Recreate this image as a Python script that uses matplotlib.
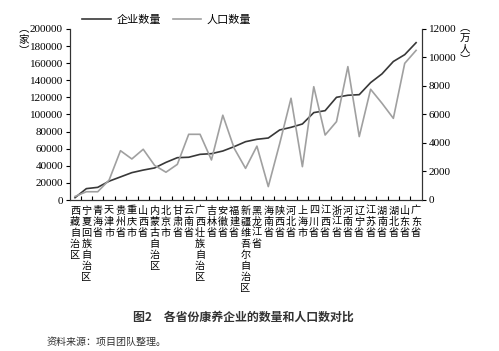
import numpy as np
import matplotlib
matplotlib.use('Agg')
import matplotlib.pyplot as plt

plt.rcParams['font.family'] = ['Noto Sans CJK SC', 'DejaVu Sans']

# provinces, ordered as in the chart
provinces = ['西藏自治区', '宁夏回族自治区', '青海省', '天津市', '贵州省', '重庆市', '山西省',
             '内蒙古自治区', '北京市', '甘肃省', '云南省', '广西壮族自治区', '吉林省', '安徽省',
             '福建省', '新疆维吾尔自治区', '黑龙江省', '海南省', '陕西省', '河北省', '上海市',
             '四川省', '江西省', '浙江省', '河南省', '辽宁省', '江苏省', '湖南省', '湖北省',
             '山东省', '广东省']

# number of enterprises (家), left axis
enterprises = [2700, 13300, 14800, 22000, 27000, 32000, 35000, 37500, 44000, 49500, 50000,
               53400, 54200, 57300, 62400, 68200, 71000, 72500, 81900, 85000, 88900,
               102200, 104500, 120100, 122500, 123200, 137300, 147500, 162000, 170000, 184000]

# population (万人), right axis
population = [250, 580, 580, 1400, 3460, 2880, 3560, 2430, 1950, 2500, 4610,
              4610, 2810, 5950, 3630, 2220, 3780, 940, 3950, 7140, 2340,
              7950, 4560, 5500, 9360, 4450, 7770, 6790, 5730, 9590, 10500]

num_font = 'Liberation Serif'
x = np.arange(len(provinces))

fig = plt.figure(figsize=(4.99, 3.51), dpi=100)
ax = fig.add_axes([70/499, 1-200/351, 352/499, 171/351])
ax2 = ax.twinx()

l1, = ax.plot(x, enterprises, color='#383838', lw=1.2, label='企业数量')
l2, = ax2.plot(x, population, color='#a0a0a0', lw=1.2, label='人口数量')

ax.set_xlim(-0.44, 30.52)
ax.set_ylim(0, 200000)
ax2.set_ylim(0, 12000)
ax.set_yticks(np.arange(0, 200001, 20000))
ax2.set_yticks(np.arange(0, 12001, 2000))

for a in (ax, ax2):
    a.spines['top'].set_visible(False)
    for s in a.spines.values():
        s.set_linewidth(0.8)
        s.set_color('#333333')

ax.tick_params(axis='y', direction='out', length=3, width=0.8, labelsize=8, pad=2)
ax2.tick_params(axis='y', direction='out', length=3, width=0.8, labelsize=8, pad=2)
for lab in ax.get_yticklabels() + ax2.get_yticklabels():
    lab.set_fontfamily(num_font)

ax.set_xticks(x)
ax.set_xticklabels(['\n'.join(p) for p in provinces], fontsize=7.3, linespacing=1.13,
                   va='top')
ax.tick_params(axis='x', which='major', length=0, pad=4)
ax.set_xticks(np.arange(0.5, 30, 1), minor=True)
ax.tick_params(axis='x', which='minor', direction='in', length=3, width=0.8)

# axis units
fig.text(24/499, 1-40/351, '︵\n家\n︶', fontsize=7.5, ha='center', va='center', linespacing=1.1)
fig.text(465/499, 1-44/351, '︵\n万\n人\n︶', fontsize=7.5, ha='center', va='center', linespacing=1.1)

fig.legend(handles=[l1, l2], loc='center', bbox_to_anchor=(167/499, 1-20/351), ncol=2,
           frameon=False, fontsize=8, handlelength=2.6, columnspacing=1.0, handletextpad=0.5)

fig.text(243/499, 1-317/351, '图2　各省份康养企业的数量和人口数对比', fontsize=8.6,
         fontweight='bold', ha='center', va='center', color='#333333')
fig.text(47/499, 1-342/351, '资料来源：项目团队整理。', fontsize=7.2, ha='left', va='center',
         color='#333333')

fig.savefig('out.png', dpi=100)
